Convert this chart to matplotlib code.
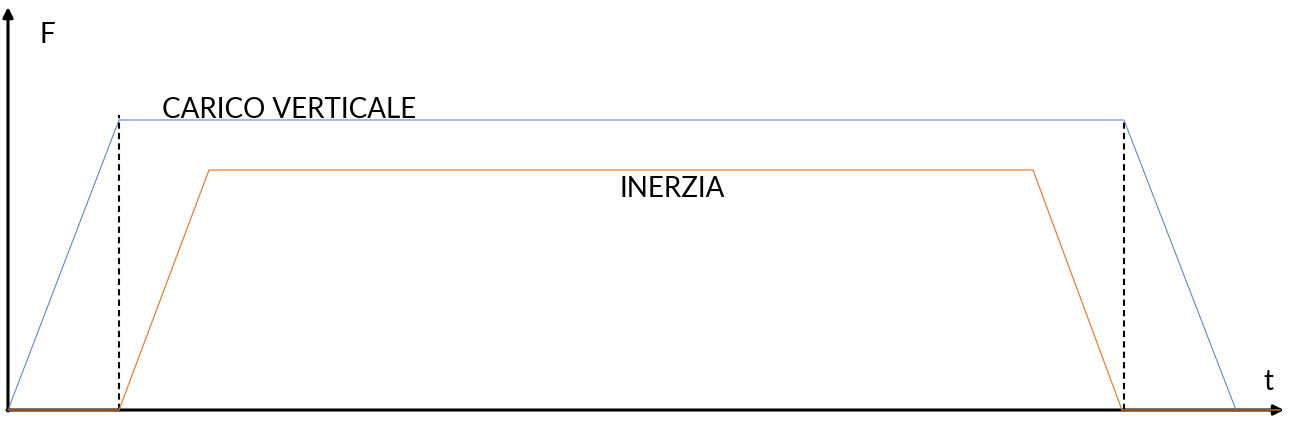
import matplotlib
matplotlib.use("Agg")
import matplotlib.pyplot as plt

# Data (time, force) in arbitrary units
t_carico = [0, 111, 1116, 1228]
f_carico = [0, 290, 290, 0]

t_inerzia = [0, 111, 201, 1025, 1114, 1272]
f_inerzia = [0, 0, 240, 240, 0, 0]

t_dashed = [111, 1116]
f_dashed_top = [295, 290]

labels = {"carico": "CARICO VERTICALE", "inerzia": "INERZIA", "F": "F", "t": "t"}

plt.rcParams['font.family'] = ['Lato', 'DejaVu Sans']

fig = plt.figure(figsize=(13, 4.3), dpi=100)
ax = fig.add_axes([0, 0, 1, 1])
ax.set_xlim(-8, 1292)
ax.set_ylim(-20, 410)
ax.axis('off')

blue = '#4472C4'
orange = '#ED7D31'

# dashed verticals
for tx, top in zip(t_dashed, f_dashed_top):
    ax.plot([tx, tx], [0, top], color='black', lw=1.5, ls=(0, (3, 2)), zorder=2)

ax.plot(t_inerzia, f_inerzia, color=orange, lw=0.9, zorder=4)
ax.plot(t_carico, f_carico, color=blue, lw=0.8, alpha=0.85, zorder=3)

# axes arrows
ax.annotate('', xy=(1276, 0), xytext=(-1, 0),
            arrowprops=dict(arrowstyle='-|>,head_length=0.6,head_width=0.3', color='black', lw=2.2,
                            shrinkA=0, shrinkB=0), zorder=1)
ax.annotate('', xy=(0, 403), xytext=(0, -1),
            arrowprops=dict(arrowstyle='-|>,head_length=0.6,head_width=0.3', color='black', lw=2.2,
                            shrinkA=0, shrinkB=0), zorder=1)

ax.text(39, 367, labels["F"], fontsize=20, ha='center', va='baseline')
ax.text(1260, 20, labels["t"], fontsize=20, ha='center', va='baseline')
ax.text(281, 292, labels["carico"], fontsize=20, ha='center', va='baseline')
ax.text(664, 213, labels["inerzia"], fontsize=20, ha='center', va='baseline')

fig.savefig('out.png', dpi=100, facecolor='white')
